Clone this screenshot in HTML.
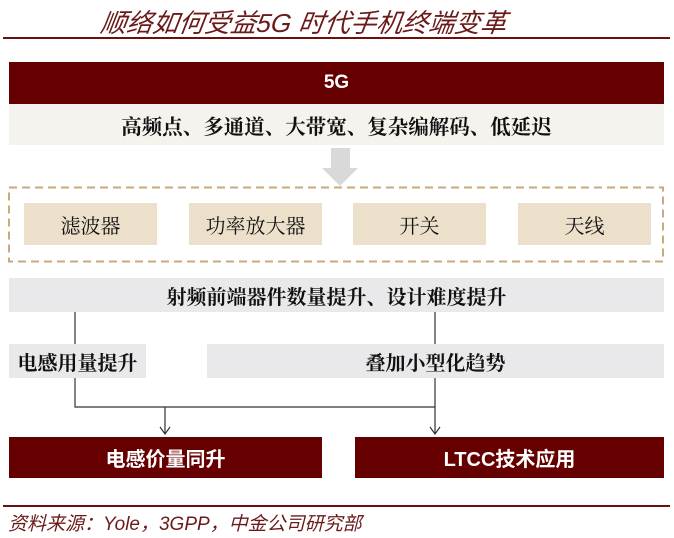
<!DOCTYPE html>
<html><head><meta charset="utf-8"><style>
*{margin:0;padding:0;box-sizing:border-box}
body{width:674px;height:538px;background:#fff;position:relative;overflow:hidden;font-family:"Liberation Sans","Noto Sans CJK SC",sans-serif}
.a{position:absolute;display:flex;align-items:center;justify-content:center;white-space:nowrap}
.red{background:#660000;color:#fff;font-weight:bold;font-size:19px}
.gray{background:#e9e9eb;color:#111;font-weight:bold;font-size:20px;font-family:"Liberation Serif","Noto Serif CJK SC",serif}
.tan{background:#ede0cb;color:#111;font-size:20px;font-family:"Liberation Serif","Noto Serif CJK SC",serif}
.t{position:absolute;color:#6b1a1a;font-style:italic;white-space:nowrap;font-family:"Liberation Sans","Noto Sans CJK SC",sans-serif}
</style></head><body>
<div class="t" style="left:101px;top:3px;font-size:26px;transform:skewX(-8deg)">顺络如何受益5G 时代手机终端变革</div>
<div style="position:absolute;left:3px;top:37px;width:667px;height:2px;background:#6b0f0f"></div>
<div class="a red" style="left:9px;top:62px;width:655px;height:42px">5G</div>
<div class="a" style="left:9px;top:104px;width:655px;height:41px;background:#f5f3ee;font-weight:bold;font-size:20.5px;font-family:'Liberation Serif','Noto Serif CJK SC',serif;color:#111">高频点、多通道、大带宽、复杂编解码、低延迟</div>
<svg style="position:absolute;left:0;top:0" width="674" height="538">
<polygon points="331,148 350,148 350,168 358,168 340,186 322,168 331,168" fill="#d9d9d9"/>
<rect x="9" y="187.5" width="654" height="74" fill="none" stroke="#c9a97e" stroke-width="2" stroke-dasharray="8,5"/>
<g stroke="#333" stroke-width="1.2" fill="none">
<line x1="75" y1="312" x2="75" y2="344"/><line x1="435" y1="312" x2="435" y2="344"/>
<polyline points="75,378 75,407 435,407"/><line x1="435" y1="378" x2="435" y2="434"/>
<line x1="165" y1="407" x2="165" y2="434"/>
<polyline points="160,427 165,434 170,427"/><polyline points="430,427 435,434 440,427"/>
</g>
</svg>
<div class="a tan" style="left:24px;top:203px;width:133px;height:42px">滤波器</div>
<div class="a tan" style="left:189px;top:203px;width:133px;height:42px">功率放大器</div>
<div class="a tan" style="left:353px;top:203px;width:133px;height:42px">开关</div>
<div class="a tan" style="left:518px;top:203px;width:133px;height:42px">天线</div>
<div class="a gray" style="left:9px;top:278px;width:655px;height:34px">射频前端器件数量提升、设计难度提升</div>
<div class="a gray" style="left:9px;top:344px;width:137px;height:34px">电感用量提升</div>
<div class="a gray" style="left:207px;top:344px;width:457px;height:34px">叠加小型化趋势</div>
<div class="a red" style="left:9px;top:437px;width:313px;height:41px;font-size:20px">电感价量同升</div>
<div class="a red" style="left:355px;top:437px;width:309px;height:41px;font-size:20px">LTCC技术应用</div>
<div style="position:absolute;left:3px;top:505px;width:667px;height:2px;background:#6b0f0f"></div>
<div class="t" style="left:8px;top:509px;font-size:19px">资料来源：Yole，3GPP，中金公司研究部</div>
</body></html>
